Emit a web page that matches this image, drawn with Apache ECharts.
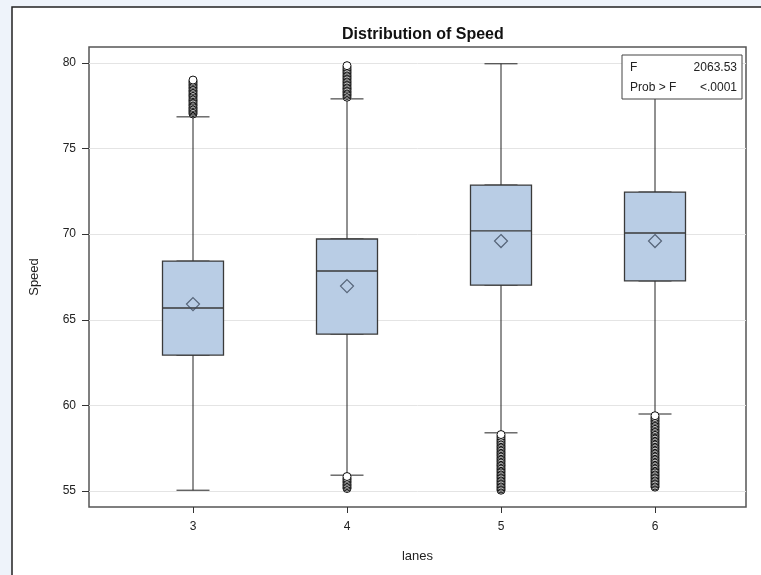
<!DOCTYPE html>
<html>
<head>
<meta charset="utf-8">
<script src="https://cdn.jsdelivr.net/npm/echarts@6/dist/echarts.min.js"></script>
<style>html,body{margin:0;padding:0;background:#eef3fa;}#c{width:761px;height:575px;}</style>
</head>
<body>
<div id="c"></div>
<script>
var lanes = ['3', '4', '5', '6'];
var whiskerLow = [55.05, 55.93, 58.4, 59.5];
var q1 = [62.94, 64.17, 67.03, 67.27];
var median = [65.69, 67.85, 70.19, 70.07];
var q3 = [68.43, 69.72, 72.87, 72.46];
var whiskerHigh = [76.85, 77.9, 79.95, 79.95];
var means = [65.92, 66.97, 69.6, 69.6];
var yTicks = [55, 60, 65, 70, 75, 80];

var out3High = [77.02, 77.1, 77.18, 77.25, 77.33, 77.4, 77.5, 77.57, 77.66, 77.75, 77.82, 77.9, 78.0, 78.08, 78.15, 78.24, 78.33, 78.4, 78.5, 78.58, 78.67, 78.75, 78.84, 78.92, 79.0];
var out4High = [78.0, 78.1, 78.18, 78.27, 78.35, 78.45, 78.52, 78.6, 78.7, 78.78, 78.87, 78.95, 79.05, 79.13, 79.22, 79.3, 79.4, 79.48, 79.57, 79.65, 79.75, 79.84];
var out4Low = [55.15, 55.23, 55.32, 55.4, 55.5, 55.58, 55.67, 55.75, 55.85];
var out5Low = [55.05, 55.13, 55.22, 55.3, 55.4, 55.48, 55.57, 55.65, 55.75, 55.83, 55.92, 56.0, 56.1, 56.18, 56.27, 56.35, 56.45, 56.52, 56.6, 56.7, 56.78, 56.87, 56.95, 57.05, 57.13, 57.22, 57.3, 57.4, 57.48, 57.57, 57.65, 57.75, 57.83, 57.92, 58.0, 58.1, 58.2, 58.3];
var out6Low = [55.23, 55.3, 55.4, 55.48, 55.57, 55.65, 55.75, 55.83, 55.92, 56.0, 56.1, 56.18, 56.27, 56.35, 56.45, 56.52, 56.6, 56.7, 56.78, 56.87, 56.95, 57.05, 57.13, 57.22, 57.3, 57.4, 57.48, 57.57, 57.65, 57.75, 57.83, 57.92, 58.0, 58.1, 58.18, 58.27, 58.35, 58.45, 58.52, 58.6, 58.7, 58.78, 58.87, 58.95, 59.05, 59.13, 59.22, 59.3, 59.4];

var fStat = '2063.53';
var pValue = '<.0001';

var whiskerData = lanes.map(function (l, i) { return [whiskerLow[i], q1[i], median[i], q3[i], whiskerHigh[i]]; });
var boxData = lanes.map(function (l, i) { return [q1[i], q1[i], median[i], q3[i], q3[i]]; });
var meanData = lanes.map(function (l, i) { return [l, means[i]]; });
var outlierData = [];
[[0, out3High], [1, out4High], [1, out4Low], [2, out5Low], [3, out6Low]].forEach(function (p) {
  p[1].forEach(function (v) { outlierData.push([lanes[p[0]], v]); });
});

var FONT = '"Liberation Sans", Arial, sans-serif';
var YMIN = 54.07, YMAX = 80.93;
var chart = echarts.init(document.getElementById('c'));
chart.setOption({
  backgroundColor: '#eef3fa',
  animation: false,
  title: {
    text: 'Distribution of Speed',
    left: 337, top: 22,
    textStyle: { fontFamily: FONT, fontSize: 16, fontWeight: 'bold', color: '#111' }
  },
  graphic: [
    { type: 'rect', z: -10, silent: true, shape: { x: 12, y: 7, width: 760, height: 580 },
      style: { fill: '#ffffff', stroke: '#222', lineWidth: 1.5 } },
    { type: 'rect', z: 100, shape: { x: 622, y: 55, width: 120, height: 44 }, style: { fill: '#fff', stroke: '#444', lineWidth: 1 } },
    { type: 'text', z: 101, x: 630, y: 68, style: { text: 'F', fontFamily: FONT, fontSize: 12, fill: '#222', verticalAlign: 'middle' } },
    { type: 'text', z: 101, x: 737, y: 68, style: { text: fStat, fontFamily: FONT, fontSize: 12, fill: '#222', align: 'right', verticalAlign: 'middle' } },
    { type: 'text', z: 101, x: 630, y: 88, style: { text: 'Prob > F', fontFamily: FONT, fontSize: 12, fill: '#222', verticalAlign: 'middle' } },
    { type: 'text', z: 101, x: 737, y: 88, style: { text: pValue, fontFamily: FONT, fontSize: 12, fill: '#222', align: 'right', verticalAlign: 'middle' } }
  ],
  grid: [
    { left: 89, top: 47, width: 657, height: 460, show: true, backgroundColor: 'transparent', borderColor: '#555', borderWidth: 1.5 },
    { left: 116, top: 47, width: 616, height: 460 },
    { left: 116, top: 47, width: 616, height: 460 }
  ],
  xAxis: [
    { gridIndex: 0, type: 'value', min: 0, max: 1, name: 'lanes', nameLocation: 'middle', nameGap: 43,
      nameTextStyle: { fontFamily: FONT, fontSize: 13, color: '#222' },
      axisLine: { show: false }, axisTick: { show: false }, axisLabel: { show: false }, splitLine: { show: false } },
    { gridIndex: 1, type: 'category', data: lanes, boundaryGap: true,
      axisLine: { show: false },
      axisTick: { show: true, alignWithLabel: true, length: 6, lineStyle: { color: '#333' } },
      axisLabel: { margin: 14, fontFamily: FONT, fontSize: 12, color: '#222' },
      splitLine: { show: false } },
    { gridIndex: 2, type: 'category', data: lanes, boundaryGap: true, show: false }
  ],
  yAxis: [
    { gridIndex: 0, type: 'value', min: YMIN, max: YMAX, name: 'Speed', nameLocation: 'middle', nameGap: 48,
      nameTextStyle: { fontFamily: FONT, fontSize: 13, color: '#222' },
      axisLine: { show: false },
      axisTick: { show: true, length: 7, customValues: yTicks, lineStyle: { color: '#333' } },
      axisLabel: { margin: 13, customValues: yTicks, fontFamily: FONT, fontSize: 12, color: '#222' },
      splitLine: { show: true, lineStyle: { color: '#e4e4e4', width: 1 } } },
    { gridIndex: 1, type: 'value', min: YMIN, max: YMAX, show: false, splitLine: { show: false } },
    { gridIndex: 2, type: 'value', min: YMIN, max: YMAX, show: false, splitLine: { show: false } }
  ],
  series: [
    { type: 'boxplot', xAxisIndex: 1, yAxisIndex: 1, data: whiskerData, boxWidth: [33, 33], z: 2,
      itemStyle: { color: '#b9cde5', borderColor: '#222', borderWidth: 1 },
      emphasis: { disabled: true } },
    { type: 'boxplot', xAxisIndex: 2, yAxisIndex: 2, data: boxData, boxWidth: [61, 61], z: 3,
      itemStyle: { color: '#b9cde5', borderColor: '#3a3a3a', borderWidth: 1.3 },
      emphasis: { disabled: true } },
    { type: 'scatter', xAxisIndex: 1, yAxisIndex: 1, data: outlierData, symbol: 'circle', symbolSize: 8, z: 4,
      itemStyle: { color: '#ffffff', borderColor: '#111', borderWidth: 1, opacity: 1 },
      emphasis: { disabled: true } },
    { type: 'scatter', xAxisIndex: 1, yAxisIndex: 1, data: meanData, symbol: 'diamond', symbolSize: 13, z: 5,
      itemStyle: { color: 'rgba(0,0,0,0)', borderColor: '#3d4a5c', borderWidth: 1.2 },
      emphasis: { disabled: true } }
  ]
});
</script>
</body>
</html>
